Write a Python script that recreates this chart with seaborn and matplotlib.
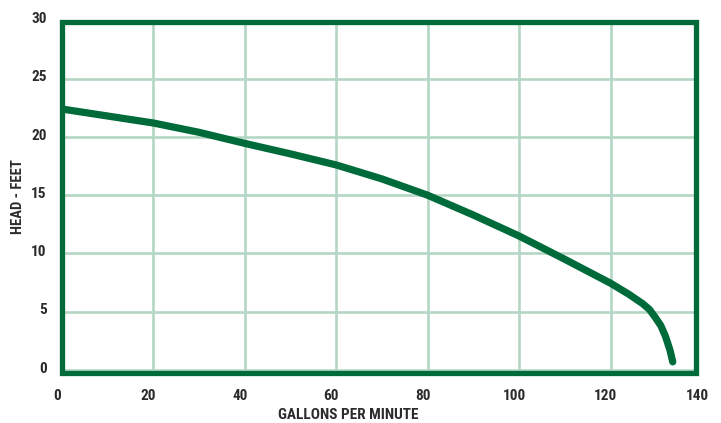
import matplotlib
matplotlib.use('Agg')
import matplotlib.pyplot as plt
import matplotlib.transforms as mtransforms
import seaborn as sns
import pandas as pd
from matplotlib.patches import Rectangle

# ── Pump performance curve data ─────────────────────────────────────────────
GPM = [0, 10, 20, 30, 40, 50, 60, 70, 80, 90, 100, 110, 120,
       124, 127, 128.5, 129.8, 131, 132, 133, 133.6]
HEAD_FT = [22.4, 21.8, 21.2, 20.4, 19.45, 18.55, 17.6, 16.4, 15.0, 13.3, 11.5, 9.5, 7.45,
           6.5, 5.7, 5.2, 4.5, 3.8, 2.9, 1.7, 0.7]
X_TICKS = [0, 20, 40, 60, 80, 100, 120, 140]
Y_TICKS = [0, 5, 10, 15, 20, 25, 30]

GREEN = '#006B3A'
GRID = '#B4D6C4'
TEXT = '#2B2B2B'

sns.set_theme(style='white')
plt.rcParams['font.family'] = ['Roboto Condensed', 'DejaVu Sans']

df = pd.DataFrame({'gpm': GPM, 'head': HEAD_FT})

fig = plt.figure(figsize=(7.21, 4.23), dpi=100)
ax = fig.add_axes([62 / 721, 53 / 423, 640 / 721, 349.5 / 423])

sns.lineplot(data=df, x='gpm', y='head', ax=ax, color=GREEN, linewidth=5.2,
             sort=False, solid_capstyle='round', solid_joinstyle='round', zorder=3)

ax.set_xlim(0, 140)
ax.set_ylim(0, 30)
ax.set_xticks(X_TICKS)
ax.set_yticks(Y_TICKS)
for s in ax.spines.values():
    s.set_visible(False)

# frame stops a little short of 140 in the original
frame = Rectangle((0, -0.3), 138.7, 30.2, fill=False, edgecolor=GREEN,
                  linewidth=3.8, clip_on=False, zorder=4)
ax.add_patch(frame)

ax.grid(True, color=GRID, linewidth=1.9)
for gl in ax.get_xgridlines() + ax.get_ygridlines():
    gl.set_clip_path(frame)
ax.set_axisbelow(True)

ax.tick_params(axis='x', length=0, pad=14, labelsize=11, labelcolor=TEXT)
ax.tick_params(axis='y', length=0, pad=11, labelsize=11, labelcolor=TEXT)

# labels in the original sit a touch left / above their grid lines
x_shift = mtransforms.ScaledTranslation(-0.05, 0, fig.dpi_scale_trans)
y_shift = mtransforms.ScaledTranslation(0, 0.03, fig.dpi_scale_trans)
for lbl in ax.get_xticklabels():
    lbl.set_fontweight('bold')
    lbl.set_transform(lbl.get_transform() + x_shift)
for lbl in ax.get_yticklabels():
    lbl.set_fontweight('bold')
    lbl.set_transform(lbl.get_transform() + y_shift)

ax.set_xlabel('GALLONS PER MINUTE', fontsize=11, fontweight='bold', color=TEXT)
ax.set_ylabel('HEAD - FEET', fontsize=10.5, fontweight='bold', color=TEXT)
ax.xaxis.set_label_coords((348.5 - 62) / 640, -0.108)
ax.yaxis.set_label_coords(-0.058, 0.495)

fig.savefig('out.png', dpi=100, facecolor='white')
